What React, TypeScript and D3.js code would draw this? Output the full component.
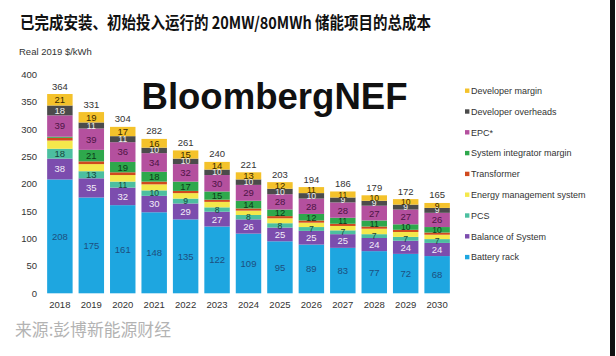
import React from "react";
import * as d3 from "d3";

const years = ["2018","2019","2020","2021","2022","2023","2024","2025","2026","2027","2028","2029","2030"];
const batteryRack = [208,175,161,148,135,122,109,95,89,83,77,72,68];
const balanceOfSystem = [38,35,32,30,29,27,26,25,25,25,24,24,24];
const pcs = [18,13,11,10,9,8,8,8,7,7,7,7,7];
const ems = [15,13,12,11,10,10,8,9,8,8,10,9,8];
const transformer = [5,5,5,5,4,4,4,4,4,4,4,4,4];
const siMargin = [2,21,19,18,17,15,14,12,12,11,11,10,10];
const epc = [39,39,36,34,32,30,29,28,28,28,27,27,26];
const devOverheads = [18,11,11,10,10,10,10,10,10,9,9,9,9];
const devMargin = [21,19,17,16,15,14,13,12,11,11,10,10,9];
const totals = [364,331,304,282,261,240,221,203,194,186,179,172,165];
const yTicks = [0,50,100,150,200,250,300,350,400];

const seriesNames = ["Battery rack","Balance of System","PCS","Energy management system","Transformer","System integrator margin","EPC*","Developer overheads","Developer margin"];
const seriesValues = [batteryRack,balanceOfSystem,pcs,ems,transformer,siMargin,epc,devOverheads,devMargin];
const seriesColors = ["#1EA6E0","#7C4DAE","#4CBFA0","#F4E84B","#D04A1E","#2EA84C","#B4509E","#4B4B4B","#F4C22B"];
const labelColors = ["#1d4f7e","#f2ecf8","#17453c",null,null,"#0d3b1a","#4d1545","#f0f0f0","#3a2a00"];

export default function App() {
  const W = 616, H = 356;
  const x = d3.scaleBand<string>().domain(years).range([44, 453]).paddingInner(0.19).paddingOuter(0.1);
  const y = d3.scaleLinear().domain([0, 400]).range([293.3, 74.3]);
  const table = years.map((yr, i) => {
    const o: any = { year: yr };
    seriesNames.forEach((n, k) => (o[n] = seriesValues[k][i]));
    return o;
  });
  const stacked = d3.stack<any>().keys(seriesNames)(table);
  const font = "'Liberation Sans', Arial, sans-serif";
  const cjk = "'Noto Sans CJK SC', sans-serif";
  return (
    <svg width={W} height={H} style={{ position: "absolute", left: 0, top: 0, background: "#fff" }}>
      <rect x={0} y={0} width={W} height={H} fill="#fff" />
      <rect x={610} y={0} width={5} height={H} fill="#111" />
      <text x={20} y={29} fontFamily={cjk} fontWeight={700} fontSize={16.5} fill="#111" textLength={411} lengthAdjust="spacingAndGlyphs">已完成安装、初始投入运行的 20MW/80MWh 储能项目的总成本</text>
      <text x={19} y={54.5} fontFamily={font} fontSize={9.5} fill="#333">Real 2019 $/kWh</text>
      {yTicks.map((t) => (
        <text key={t} x={37} y={y(t) + 3.5} textAnchor="end" fontFamily={font} fontSize={9.5} fill="#333">{t}</text>
      ))}
      {stacked.map((s, k) => (
        <g key={k}>
          {s.map((d, i) => (
            <rect key={i} x={x(years[i])} y={y(d[1])} width={x.bandwidth()} height={y(d[0]) - y(d[1])} fill={seriesColors[k]} />
          ))}
        </g>
      ))}
      {stacked.map((s, k) => (
        <g key={"l" + k}>
          {labelColors[k] && s.map((d, i) => {
            const v = seriesValues[k][i];
            if (v < 6) return null;
            const fs = v < 12 ? 8.6 : 9.5;
            return (
              <text key={i} x={(x(years[i]) as number) + x.bandwidth() / 2} y={(y(d[0]) + y(d[1])) / 2 + fs * 0.36} textAnchor="middle" fontFamily={font} fontSize={fs} fill={labelColors[k] as string}>{v}</text>
            );
          })}
        </g>
      ))}
      {totals.map((t, i) => (
        <text key={i} x={(x(years[i]) as number) + x.bandwidth() / 2} y={y(t) - 4.5} textAnchor="middle" fontFamily={font} fontSize={9.5} fill="#333">{t}</text>
      ))}
      {years.map((yr) => (
        <text key={yr} x={(x(yr) as number) + x.bandwidth() / 2} y={308} textAnchor="middle" fontFamily={font} fontSize={9.5} fill="#333">{yr}</text>
      ))}
      <text x={141.5} y={108.5} fontFamily={font} fontWeight={700} fontSize={36} fill="#111" textLength={266} lengthAdjust="spacingAndGlyphs">BloombergNEF</text>
      {seriesNames.slice().reverse().map((n, j) => {
        const k = seriesNames.length - 1 - j;
        const yy = 90.7 + j * 20.8;
        return (
          <g key={n}>
            <rect x={465} y={yy - 2.2} width={4.4} height={4.4} fill={seriesColors[k]} />
            <text x={471} y={yy + 3.3} fontFamily={font} fontSize={9} fill="#333">{n}</text>
          </g>
        );
      })}
      <text x={15} y={336} fontFamily={cjk} fontSize={17} fill="#b3b3b3" textLength={156} lengthAdjust="spacingAndGlyphs">来源:彭博新能源财经</text>
    </svg>
  );
}
